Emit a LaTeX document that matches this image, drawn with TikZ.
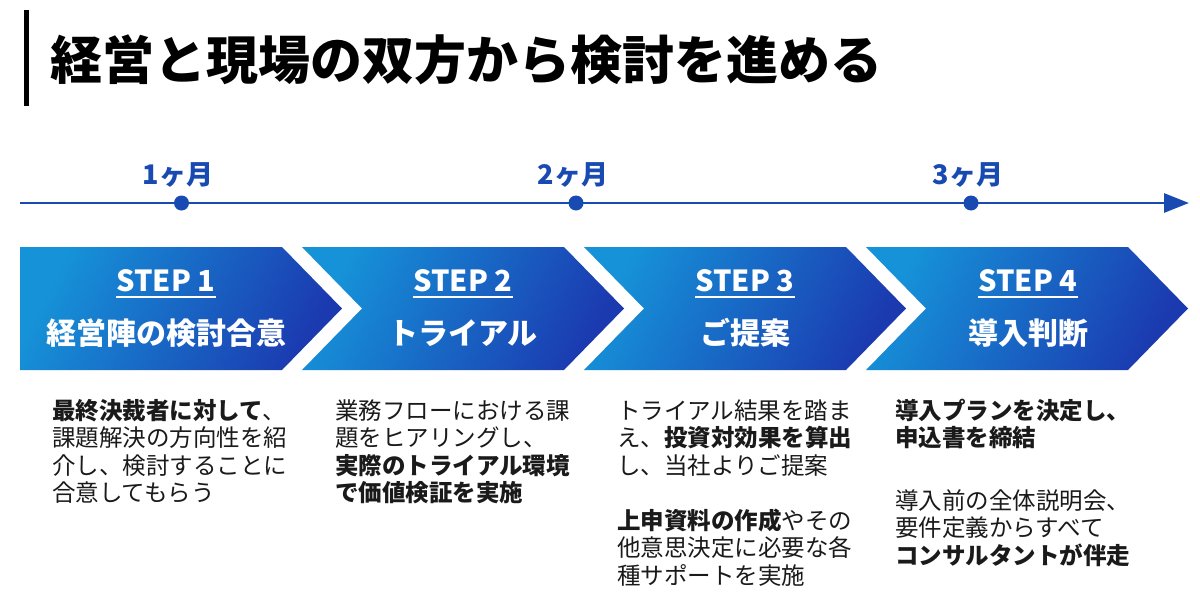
\documentclass[tikz,border=0pt]{standalone}
\usepackage{fontspec}
\setmainfont{Noto Sans CJK JP}
\usetikzlibrary{arrows.meta}
\definecolor{stepLight}{RGB}{22,146,216}
\definecolor{stepDark}{RGB}{27,58,176}
\definecolor{tlblue}{RGB}{24,74,178}
\definecolor{bodyink}{RGB}{26,26,26}
\tikzset{
  stepshape/.style={top color=stepLight, bottom color=stepDark, shading angle=62, draw=none},
  steplabel/.style={inner sep=0pt, anchor=base, text=white, font=\fontsize{29}{34}\selectfont\bfseries},
  stepname/.style={inner sep=0pt, anchor=base, text=white, font=\fontsize{30}{36}\selectfont\bfseries},
  uline/.style={draw=white, line width=2pt},
  tllabel/.style={inner sep=0pt, anchor=base, text=tlblue, font=\fontsize{27}{30}\selectfont\bfseries},
  tldot/.style={circle, fill=tlblue, minimum size=15pt, inner sep=0pt},
  tlline/.style={draw=tlblue, line width=2.8pt, -{Triangle[length=25pt,width=19pt]}},
  bodytext/.style={inner sep=0pt, anchor=base west, align=left, text=bodyink, font=\fontsize{23.5}{27.5}\selectfont},
}
\begin{document}
\begin{tikzpicture}[x=1pt,y=-1pt]
\useasboundingbox[fill=white] (0,0) rectangle (1200,616);
% title
\fill[black] (24,10) rectangle (29,106);
\node[inner sep=0pt, anchor=base west, font=\fontsize{52}{62}\selectfont\bfseries] (title) at (50,79) {経営と現場の双方から検討を進める};
% timeline
\coordinate (tlstart) at (20,203);
\coordinate (tlend) at (1189,203);
\path[tlline] (tlstart) -- (tlend);
\node[tldot] (d1) at (181.5,203) {};
\node[tldot] (d2) at (576,203) {};
\node[tldot] (d3) at (971,203) {};
\node[tllabel] (m1) at (178,184) {1ヶ月};
\node[tllabel] (m2) at (573,184) {2ヶ月};
\node[tllabel] (m3) at (968,184) {3ヶ月};
% steps
\shade[stepshape] (20,247) -- (282,247) -- (342,308.5) -- (282,370) -- (20,370) -- cycle;
\foreach \L in {302,584,866}{
  \shade[stepshape] (\L,247) -- (\L+262,247) -- (\L+322,308.5) -- (\L+262,370) -- (\L,370) -- (\L+60,308.5) -- cycle;
}
\node[steplabel] (s1) at (166,291.5) {STEP 1};
\node[steplabel] (s2) at (463,291.5) {STEP 2};
\node[steplabel] (s3) at (745,291.5) {STEP 3};
\node[steplabel] (s4) at (1028,291.5) {STEP 4};
\foreach \n in {s1,s2,s3,s4}{
  \draw[uline] ([yshift=-5.5pt]\n.base west) -- ([yshift=-5.5pt]\n.base east);
}
\node[stepname] (n1) at (166,344) {経営陣の検討合意};
\node[stepname] (n2) at (463,344) {トライアル};
\node[stepname] (n3) at (745,344) {ご提案};
\node[stepname] (n4) at (1028,344) {導入判断};
% descriptions (anchored at the baseline of the last line)
\node[bodytext] (t1) at (52,501.5) {{\bfseries 最終決裁者に対して}、\\課題解決の方向性を紹\\介し、検討することに\\合意してもらう};
\node[bodytext] (t2) at (335,501.5) {業務フローにおける課\\題をヒアリングし、\\{\bfseries 実際のトライアル環境}\\{\bfseries で価値検証を実施}};
\node[bodytext] (t3) at (617,584) {トライアル結果を踏ま\\え、{\bfseries 投資対効果を算出}\\し、当社よりご提案\\[27.5pt]{\bfseries 上申資料の作成}やその\\他意思決定に必要な各\\種サポートを実施};
\node[bodytext] (t4) at (895,564) {{\bfseries 導入プランを決定し、}\\{\bfseries 申込書を締結}\\[35pt]導入前の全体説明会、\\要件定義からすべて\\{\bfseries コンサルタントが伴走}};
\end{tikzpicture}
\end{document}
